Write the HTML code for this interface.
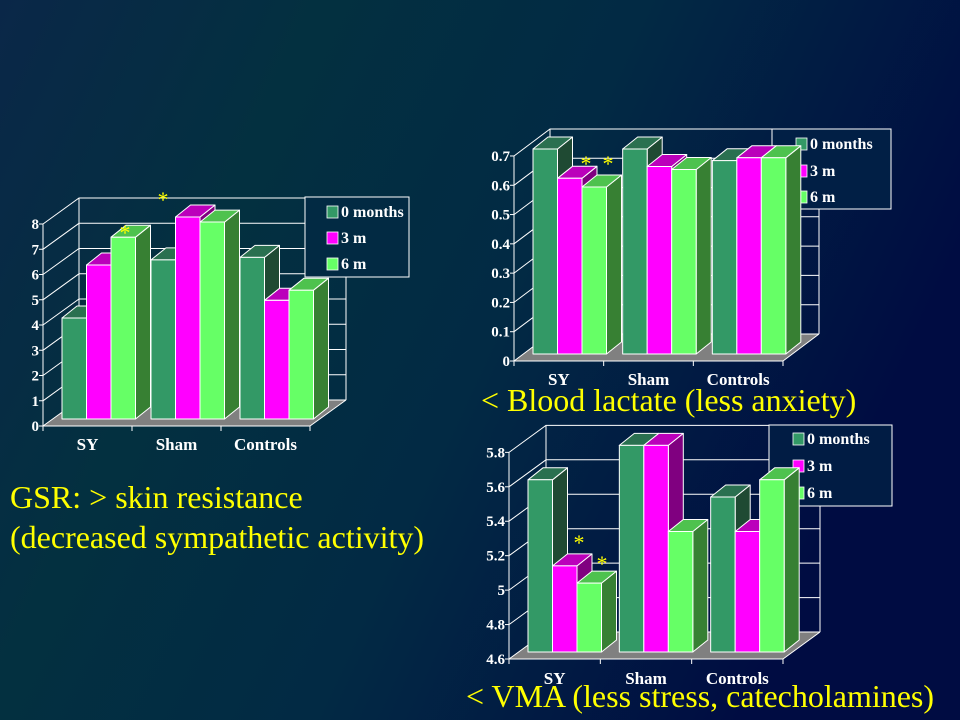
<!DOCTYPE html>
<html><head><meta charset="utf-8"><style>
html,body{margin:0;padding:0;width:960px;height:720px;overflow:hidden;}
svg{display:block;font-family:"Liberation Serif",serif;}
</style></head><body>
<svg id="s" width="960" height="720" viewBox="0 0 960 720" xmlns="http://www.w3.org/2000/svg">
<defs>
<linearGradient id="bg" x1="0" y1="0" x2="1" y2="0.35">
<stop offset="0" stop-color="#0a2748"/>
<stop offset="0.3" stop-color="#033040"/>
<stop offset="0.6" stop-color="#022a44"/>
<stop offset="1" stop-color="#000c42"/>
</linearGradient>
</defs>
<rect width="960" height="720" fill="url(#bg)"/>
<g id="charts"></g>
<text x="10" y="508" fill="#ffff00" font-size="32">GSR: &gt; skin resistance</text>
<text x="10" y="548" fill="#ffff00" font-size="32">(decreased sympathetic activity)</text>
<text x="481" y="411" fill="#ffff00" font-size="32">&lt; Blood lactate (less anxiety)</text>
<text x="466" y="707" fill="#ffff00" font-size="32">&lt; VMA (less stress, catecholamines)</text>
</svg>
<script>
const categories = ["SY", "Sham", "Controls"];
const seriesNames = ["0 months", "3 m", "6 m"];
const gsrValues = [[4.0, 6.3, 6.4], [6.1, 8.0, 4.7], [7.2, 7.8, 5.1]];
const lactateValues = [[0.7, 0.7, 0.66], [0.6, 0.64, 0.67], [0.57, 0.63, 0.67]];
const vmaValues = [[5.6, 5.8, 5.5], [5.1, 5.8, 5.3], [5.0, 5.3, 5.6]];
const gsrTicks = ["0","1","2","3","4","5","6","7","8"];
const lactateTicks = ["0","0.1","0.2","0.3","0.4","0.5","0.6","0.7"];
const vmaTicks = ["4.6","4.8","5","5.2","5.4","5.6","5.8"];

const NS = "http://www.w3.org/2000/svg";
const colors = [
  {front:"#339966", top:"#2a7050", side:"#1f4a33"},
  {front:"#ff00ff", top:"#bb00bb", side:"#800080"},
  {front:"#66ff66", top:"#4ec24e", side:"#378033"}
];
function mk(parent, tag, attrs){
  const e = document.createElementNS(NS, tag);
  for (const k in attrs) e.setAttribute(k, attrs[k]);
  parent.appendChild(e);
  return e;
}
function pts(a){ return a.map(p => p[0].toFixed(1)+","+p[1].toFixed(1)).join(" "); }

function drawChart(name, cfg, values, ticks, stars){
  const root = document.getElementById("charts");
  const g = mk(root, "g", {});
  
  
  const {x0, y0, w, min, max, dx, dy} = cfg;
  const scale = cfg.scale;
  const yv = v => y0 - (v - min) * scale;
  const catW = w / categories.length;
  const floor = mk(g, "polygon", {points: pts([[x0,y0],[x0+w,y0],[x0+w+dx,y0+dy],[x0+dx,y0+dy]]), fill:"#808080"});
  
  
  const step = (max - min) / (ticks.length - 1);
  for (let i = 0; i < ticks.length; i++){
    const v = min + i * step;
    const y = yv(v);
    const gl = mk(g, "polyline", {points: pts([[x0,y],[x0+dx,y+dy],[x0+w+dx,y+dy]]), fill:"none", stroke:"#ffffff", "stroke-width":"1"});
    
    
    const tl = mk(g, "text", {x: x0-4, y: y+5, fill:"#ffffff", "font-size":"15", "font-weight":"bold", "text-anchor":"end"});
    tl.textContent = ticks[i];
    
    
    mk(g, "line", {x1:x0-4, y1:y, x2:x0, y2:y, stroke:"#fff"});
  }
  const yt = yv(max);
  mk(g, "line", {x1:x0+dx, y1:y0+dy, x2:x0+dx, y2:yt+dy, stroke:"#fff"});
  mk(g, "line", {x1:x0+w+dx, y1:y0+dy, x2:x0+w+dx, y2:yt+dy, stroke:"#fff"});
  mk(g, "line", {x1:x0, y1:y0, x2:x0, y2:yt, stroke:"#fff"});
  mk(g, "line", {x1:x0, y1:y0, x2:x0+w, y2:y0, stroke:"#fff"});
  mk(g, "line", {x1:x0+w, y1:y0, x2:x0+w+dx, y2:y0+dy, stroke:"#fff"});
  for (let i = 0; i <= categories.length; i++){
    mk(g, "line", {x1:x0+i*catW, y1:y0, x2:x0+i*catW, y2:y0+5, stroke:"#fff"});
  }
  const L = cfg.legend;
  const lg = mk(g, "g", {});
  
  
  mk(lg, "rect", {x:L.x, y:L.y, width:L.w, height:L.h, fill:L.fill, stroke:"#ffffff"});
  seriesNames.forEach((s, j) => {
    const cy = L.rows[j];
    const sw = mk(lg, "rect", {x:L.sx, y:cy-6, width:11, height:12, fill:colors[j].front, stroke:"#ffffff", "stroke-width":"0.8"});
    
    
    const t = mk(lg, "text", {x:L.sx+14, y:cy+5, fill:"#ffffff", "font-size":"16", "font-weight":"bold"});
    t.textContent = s;
    
    
  });
  const bw = 24.5, bdx = 15, bdy = -12;
  categories.forEach((c, i) => {
    seriesNames.forEach((s, j) => {
      const v = values[j][i];
      const bx = x0 + i*catW + 19 + j*bw;
      const by = y0 - 7;
      const ty = yv(v) - 7;
      const bg = mk(g, "g", {stroke:"#ffffff", "stroke-width":"1", "stroke-linejoin":"round"});
      
      
      mk(bg, "polygon", {points: pts([[bx+bw,by],[bx+bw+bdx,by+bdy],[bx+bw+bdx,ty+bdy],[bx+bw,ty]]), fill:colors[j].side});
      mk(bg, "polygon", {points: pts([[bx,ty],[bx+bw,ty],[bx+bw+bdx,ty+bdy],[bx+bdx,ty+bdy]]), fill:colors[j].top});
      mk(bg, "rect", {x:bx, y:ty, width:bw, height:by-ty, fill:colors[j].front});
    });
    const cl = mk(g, "text", {x: x0 + (i+0.5)*catW, y: cfg.catY, fill:"#ffffff", "font-size":"17", "font-weight":"bold", "text-anchor":"middle"});
    cl.textContent = c;
    
    
  });
  stars.forEach(p => {
    const st = mk(g, "text", {x:p[0], y:p[1], fill:"#ffff00", "font-size":"22", "text-anchor":"middle"});
    st.textContent = "*";
    
    
  });
}

drawChart("gsr-chart", {x0:43, y0:426, w:267, min:0, max:8, scale:25.25, dx:36, dy:-26, catY:450,
  legend:{x:305, y:197, w:104, h:80, fill:"#022a43", sx:327, rows:[212,238,264]}},
  gsrValues, gsrTicks, [[163,207],[125,240]]);
drawChart("lactate-chart", {x0:514, y0:361, w:269, min:0, max:0.7, scale:292.9, dx:36, dy:-27, catY:385,
  legend:{x:772, y:129, w:119, h:80, fill:"#011f45", sx:796, rows:[144,171,197]}},
  lactateValues, lactateTicks, [[586,171],[608,171]]);
drawChart("vma-chart", {x0:509, y0:659, w:274, min:4.6, max:5.8, scale:172.2, dx:37, dy:-27, catY:684,
  legend:{x:769, y:425, w:123, h:81, fill:"#011c44", sx:793, rows:[439,466,493]}},
  vmaValues, vmaTicks, [[579,550],[602,571]]);
</script>
</body></html>
